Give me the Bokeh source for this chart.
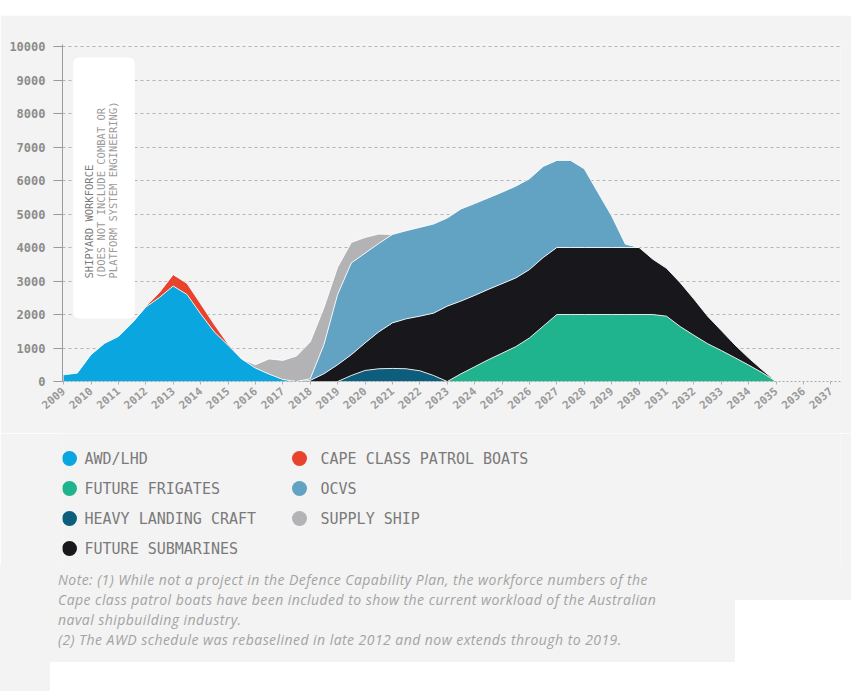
import math
import numpy as np
from bokeh.plotting import figure
from bokeh.models import Range1d, FixedTicker, Label, BoxAnnotation, ColumnDataSource, Div
from bokeh.layouts import column
from bokeh.embed import file_html
from bokeh.resources import INLINE
from bokeh.core.properties import value

# ---------------- data ----------------
years = [2009.0, 2009.5, 2010.0, 2010.5, 2011.0, 2011.5, 2012.0, 2012.5, 2013.0, 2013.5,
         2014.0, 2014.5, 2015.0, 2015.5, 2016.0, 2016.5, 2017.0, 2017.5, 2018.0, 2018.5,
         2019.0, 2019.5, 2020.0, 2020.5, 2021.0, 2021.5, 2022.0, 2022.5, 2023.0, 2023.5,
         2024.0, 2024.5, 2025.0, 2025.5, 2026.0, 2026.5, 2027.0, 2027.5, 2028.0, 2028.5,
         2029.0, 2029.5, 2030.0, 2030.5, 2031.0, 2031.5, 2032.0, 2032.5, 2033.0, 2033.5,
         2034.0, 2034.5, 2035.0]

awd_lhd = [200, 250, 800, 1140, 1340, 1750, 2220, 2510, 2850, 2600,
           2020, 1480, 1080, 670, 400, 220, 60, 0, 0, 0,
           0, 0, 0, 0, 0, 0, 0, 0, 0, 0,
           0, 0, 0, 0, 0, 0, 0, 0, 0, 0,
           0, 0, 0, 0, 0, 0, 0, 0, 0, 0,
           0, 0, 0]
cape_class = [0, 0, 0, 0, 0, 0, 20, 150, 340, 330,
              300, 220, 40, 0, 0, 0, 0, 0, 0, 0,
              0, 0, 0, 0, 0, 0, 0, 0, 0, 0,
              0, 0, 0, 0, 0, 0, 0, 0, 0, 0,
              0, 0, 0, 0, 0, 0, 0, 0, 0, 0,
              0, 0, 0]
future_frigates = [0, 0, 0, 0, 0, 0, 0, 0, 0, 0,
                   0, 0, 0, 0, 0, 0, 0, 0, 0, 0,
                   0, 0, 0, 0, 0, 0, 0, 0, 0, 230,
                   440, 650, 845, 1040, 1300, 1650, 2000, 2000, 2000, 2000,
                   2000, 2000, 2000, 2000, 1950, 1640, 1380, 1130, 925, 710,
                   490, 260, 0]
heavy_landing = [0, 0, 0, 0, 0, 0, 0, 0, 0, 0,
                 0, 0, 0, 0, 0, 0, 0, 0, 0, 0,
                 0, 180, 330, 380, 390, 380, 320, 180, 0, 0,
                 0, 0, 0, 0, 0, 0, 0, 0, 0, 0,
                 0, 0, 0, 0, 0, 0, 0, 0, 0, 0,
                 0, 0, 0]
future_subs = [0, 0, 0, 0, 0, 0, 0, 0, 0, 0,
               0, 0, 0, 0, 0, 0, 0, 0, 30, 230,
               500, 620, 820, 1100, 1360, 1490, 1630, 1860, 2250, 2170,
               2130, 2100, 2075, 2050, 2040, 2050, 2000, 2000, 2000, 2000,
               2000, 2000, 2000, 1650, 1430, 1310, 1080, 820, 595, 380,
               210, 80, 0]
ocvs = [0, 0, 0, 0, 0, 0, 0, 0, 0, 0,
        0, 0, 0, 0, 0, 0, 0, 0, 50, 870,
        2100, 2740, 2680, 2640, 2640, 2630, 2650, 2660, 2630, 2750,
        2740, 2730, 2730, 2740, 2710, 2720, 2600, 2600, 2350, 1640,
        940, 100, 0, 0, 0, 0, 0, 0, 0, 0,
        0, 0, 0]
supply_ship = [0, 0, 0, 0, 0, 0, 0, 0, 0, 0,
               0, 0, 0, 0, 100, 455, 570, 760, 1100, 1100,
               810, 610, 470, 280, 0, 0, 0, 0, 0, 0,
               0, 0, 0, 0, 0, 0, 0, 0, 0, 0,
               0, 0, 0, 0, 0, 0, 0, 0, 0, 0,
               0, 0, 0]

series_keys = ["awd", "cape", "frig", "hlc", "subs", "ocv", "supply"]
series_colors = ["#0aa6e0", "#e8432d", "#1fb48e", "#0c5e7c", "#17171c", "#62a3c3", "#b3b3b5"]

tick_years = [2009, 2010, 2011, 2012, 2013, 2014, 2015, 2016, 2017, 2018, 2019, 2020,
              2021, 2022, 2023, 2024, 2025, 2026, 2027, 2028, 2029, 2030, 2031, 2032,
              2033, 2034, 2035, 2036, 2037]
y_ticks = [0, 1000, 2000, 3000, 4000, 5000, 6000, 7000, 8000, 9000, 10000]
y_tick_labels = ["0", "1000", "2000", "3000", "4000", "5000", "6000", "7000", "8000", "9000", "10000"]

legend_col1 = ["AWD/LHD", "FUTURE FRIGATES", "HEAVY LANDING CRAFT", "FUTURE SUBMARINES"]
legend_col1_colors = ["#0aa6e0", "#1fb48e", "#0c5e7c", "#17171c"]
legend_col2 = ["CAPE CLASS PATROL BOATS", "OCVS", "SUPPLY SHIP"]
legend_col2_colors = ["#e8432d", "#62a3c3", "#b3b3b5"]

axis_title = ["SHIPYARD WORKFORCE", "(DOES NOT INCLUDE COMBAT OR", "PLATFORM SYSTEM ENGINEERING)"]

notes = ["Note: (1) While not a project in the Defence Capability Plan, the workforce numbers of the",
         "Cape class patrol boats have been included to show the current workload of the Australian",
         "naval shipbuilding industry.",
         "(2) The AWD schedule was rebaselined in late 2012 and now extends through to 2019."]

BG = "#f3f3f3"
MONO = "DejaVu Sans Mono"
W = 851
TOP_H = 15
CHART_H = 418
LEG_H = 132
NOTE_H = 691 - TOP_H - CHART_H - LEG_H
LEFT = 62
RIGHT = 11

# ---------------- white strip at top ----------------
t = figure(width=W, height=TOP_H, x_range=Range1d(0, W), y_range=Range1d(TOP_H, 0),
           output_backend="svg", toolbar_location=None,
           x_axis_location=None, y_axis_location=None, min_border=0)
t.background_fill_color = "white"
t.border_fill_color = "white"
t.outline_line_color = None
t.grid.grid_line_color = None

# ---------------- chart ----------------
src = ColumnDataSource(dict(year=years, awd=awd_lhd, cape=cape_class, frig=future_frigates,
                            hlc=heavy_landing, subs=future_subs, ocv=ocvs, supply=supply_ship))

p = figure(width=W, height=CHART_H, x_range=Range1d(2008.96, 2037.35), y_range=Range1d(0, 10060),
           output_backend="svg", toolbar_location=None,
           min_border_left=LEFT, min_border_right=RIGHT, min_border_top=44 - TOP_H,
           min_border_bottom=52)
p.background_fill_color = BG
p.border_fill_color = BG
p.outline_line_color = None

p.varea_stack(stackers=series_keys, x="year", color=series_colors, source=src)

# thin white separators along each layer top
vals = [np.array(a, float) for a in (awd_lhd, cape_class, future_frigates, heavy_landing,
                                      future_subs, ocvs, supply_ship)]
cum = np.zeros(len(years))
yrs = np.array(years)
for v in vals:
    cum = cum + v
    active = (v > 0) | (np.roll(v, 1) > 0) | (np.roll(v, -1) > 0)
    top = np.where(active, cum, np.nan)
    p.line(yrs, top, line_color="white", line_width=1, line_alpha=0.85)

p.xgrid.grid_line_color = None
p.ygrid.ticker = FixedTicker(ticks=y_ticks)
p.ygrid.grid_line_color = "#b5b5b5"
p.ygrid.grid_line_dash = "3 3"
p.ygrid.grid_line_width = 1

p.yaxis.ticker = FixedTicker(ticks=y_ticks)
p.yaxis.major_label_overrides = {t_: l for t_, l in zip(y_ticks, y_tick_labels)}
p.yaxis.axis_line_color = "#9a9a9a"
p.yaxis.major_tick_line_color = "#9a9a9a"
p.yaxis.major_tick_out = 9
p.yaxis.major_tick_in = 0
p.yaxis.minor_tick_line_color = None
p.yaxis.major_label_text_font = MONO
p.yaxis.major_label_text_font_style = "bold"
p.yaxis.major_label_text_font_size = "12px"
p.yaxis.major_label_text_color = "#8c8c8c"
p.yaxis.major_label_standoff = 8

p.xaxis.ticker = FixedTicker(ticks=tick_years)
p.xaxis.axis_line_color = "#a8a8a8"
p.xaxis.axis_line_dash = "2 2"
p.xaxis.major_tick_line_color = "#b0b0b0"
p.xaxis.major_tick_out = 3
p.xaxis.major_tick_in = 0
p.xaxis.minor_tick_line_color = None
p.xaxis.major_label_orientation = 0.7
p.xaxis.major_label_text_font = MONO
p.xaxis.major_label_text_font_style = "bold"
p.xaxis.major_label_text_font_size = "11px"
p.xaxis.major_label_text_color = "#9a9a9a"
p.xaxis.major_label_standoff = 5

box = BoxAnnotation(left=2009.35, right=2011.6, top=9670, bottom=1880,
                    fill_color="white", fill_alpha=1.0, line_color=None, border_radius=6)
p.add_layout(box)

title_x = [2009.91, 2010.35, 2010.79]
title_colors = ["#7a7a7a", "#9a9a9a", "#9a9a9a"]
for tx, txt, tc in zip(title_x, axis_title, title_colors):
    p.add_layout(Label(x=tx, y=3075, text=txt, angle=math.pi / 2, text_align="left",
                       text_baseline="middle", text_font=MONO, text_font_size="10.5px",
                       text_color=tc))

# ---------------- legend (data units = page pixels; frame aligned with chart) ----------------
y0 = TOP_H + CHART_H
q = figure(width=W, height=LEG_H, x_range=Range1d(LEFT, W - RIGHT), y_range=Range1d(y0 + LEG_H, y0),
           output_backend="svg", toolbar_location=None,
           x_axis_location=None, y_axis_location=None, min_border=0)
q.background_fill_color = BG
q.border_fill_color = BG
q.outline_line_color = None
q.grid.grid_line_color = None

row_y = [458, 488, 518, 548]
q.scatter(x=[69] * len(legend_col1), y=row_y[:len(legend_col1)], size=15,
          color=legend_col1_colors, line_color=None)
q.text(x=[84] * len(legend_col1), y=row_y[:len(legend_col1)], text=legend_col1,
       text_font=value(MONO), text_font_size="15px", text_color="#7a7a7a",
       text_baseline="middle", text_align="left")
q.scatter(x=[299] * len(legend_col2), y=row_y[:len(legend_col2)], size=15,
          color=legend_col2_colors, line_color=None)
q.text(x=[320] * len(legend_col2), y=row_y[:len(legend_col2)], text=legend_col2,
       text_font=value(MONO), text_font_size="15px", text_color="#7a7a7a",
       text_baseline="middle", text_align="left")

# ---------------- notes ----------------
y1 = y0 + LEG_H
note_html = "<br>".join(notes)
html = (
    f'<div style="position:relative;width:{W}px;height:{NOTE_H}px;background:{BG};overflow:hidden;">'
    f'<div style="position:absolute;left:735px;top:{600 - y1}px;width:{W - 735}px;'
    f'height:{691 - 600}px;background:#ffffff;"></div>'
    f'<div style="position:absolute;left:50px;top:{662 - y1}px;width:{W - 50}px;'
    f'height:{691 - 662}px;background:#ffffff;"></div>'
    f'<div style="position:absolute;left:58px;top:{570 - y1}px;line-height:20px;'
    f'font-family:\'Open Sans\';font-style:italic;font-size:14px;letter-spacing:0.45px;'
    f'color:#a3a3a3;white-space:nowrap;">'
    f'{note_html}</div></div>'
)
d = Div(text=html, width=W, height=NOTE_H, margin=0)

layout = column(t, p, q, d, spacing=0)
open("out.html", "w").write(file_html(layout, INLINE))
